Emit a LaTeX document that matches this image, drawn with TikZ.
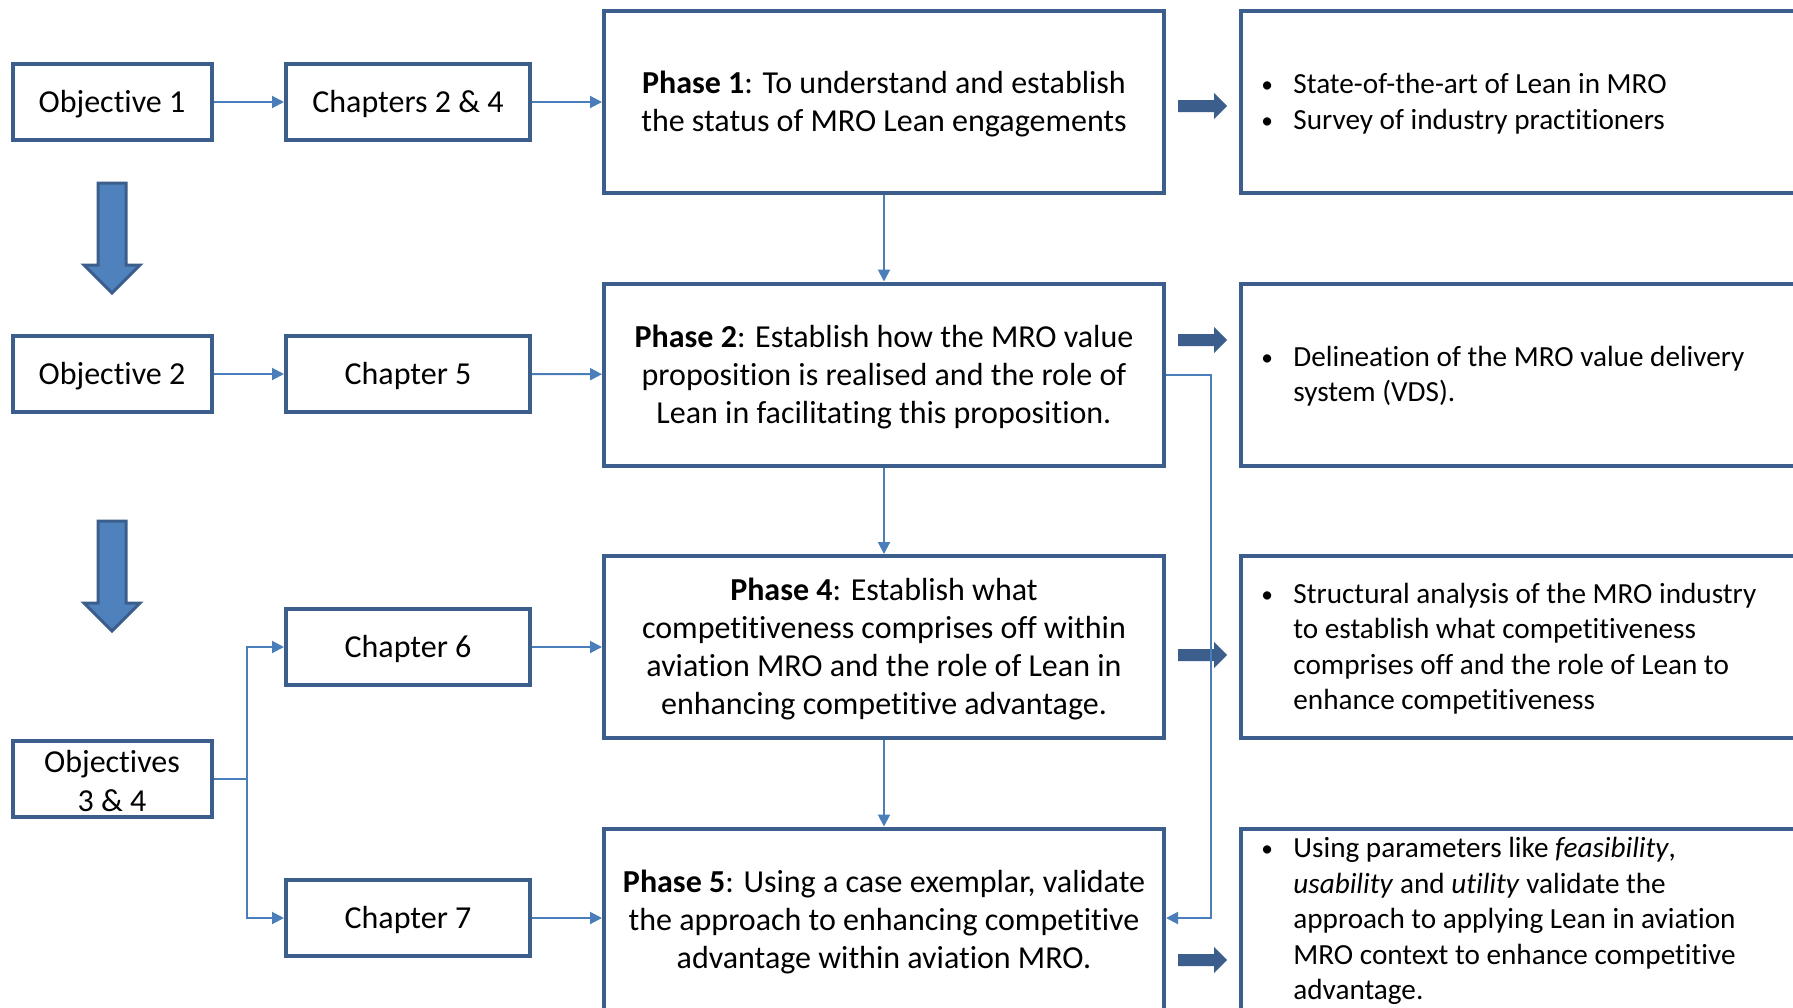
\documentclass[tikz,border=0pt]{standalone}
\usepackage{fontspec}
\setmainfont{Carlito}[Ligatures={NoCommon}]
\usetikzlibrary{arrows.meta}
\definecolor{frameblue}{HTML}{3B5E8C}
\definecolor{linkblue}{HTML}{4A7EBB}
\definecolor{fillblue}{HTML}{4F81BD}
\newcommand{\dotmark}{\raisebox{0.5pt}{\scalebox{0.8}{\textbullet}}}

\begin{document}
\begin{tikzpicture}[x=0.5pt,y=-0.5pt,
  box/.style={draw=frameblue, line width=2pt, fill=white, rectangle, inner sep=0pt},
  smallbox/.style={box, minimum width=99.5pt, minimum height=38pt},
  chapbox/.style={smallbox, minimum width=122pt},
  phasebox/.style={box, minimum width=280pt, minimum height=91pt},
  outbox/.style={box, minimum width=305pt, minimum height=91pt, anchor=west},
  boxtext/.style={inner sep=0pt, align=center, font=\fontsize{16}{19.5}\selectfont},
  phasetext/.style={inner sep=0pt, align=center, font=\fontsize{16}{19}\selectfont},
  outtext/.style={anchor=west, inner sep=0pt, align=left, font=\fontsize{14.6}{17.75}\selectfont},
  link/.style={draw=linkblue, line width=1pt, -{Triangle[length=6pt,width=6pt]}},
  fatarrow/.pic={\fill[frameblue] (0,-6) -- (36,-6) -- (36,-13) -- (49,0) -- (36,13) -- (36,6) -- (0,6) -- cycle;},
  downarrow/.pic={\draw[frameblue, fill=fillblue, line width=1.5pt, line join=miter]
     (-14,0) -- (14,0) -- (14,82) -- (28,82) -- (0,110) -- (-28,82) -- (-14,82) -- cycle;}
]
\clip (0,0) rectangle (1793,1007);
\fill[white] (0,0) rectangle (1793,1007);

% left column: objectives
\node[smallbox] (obj1) at (112,102) {};
\node[smallbox] (obj2) at (112,374) {};
\node[smallbox] (obj34) at (112,779) {};
\node[boxtext] (obj1t) at ([yshift=-1.15pt]obj1.center) {Objective 1};
\node[boxtext] (obj2t) at ([yshift=-1.15pt]obj2.center) {Objective 2};
\node[boxtext] (obj34t) at ([yshift=-1.15pt]obj34.center) {Objectives\\3 \& 4};

% chapters
\node[chapbox] (ch24) at (408,102) {};
\node[chapbox] (ch5) at (408,374) {};
\node[chapbox] (ch6) at (408,647) {};
\node[chapbox] (ch7) at (408,918) {};
\node[boxtext] (ch24t) at ([yshift=-1.15pt]ch24.center) {Chapters 2 \& 4};
\node[boxtext] (ch5t) at ([yshift=-1.15pt]ch5.center) {Chapter 5};
\node[boxtext] (ch6t) at ([yshift=-1.15pt]ch6.center) {Chapter 6};
\node[boxtext] (ch7t) at ([yshift=-1.15pt]ch7.center) {Chapter 7};

% phases
\node[phasebox] (ph1) at (884,102) {};
\node[phasebox] (ph2) at (884,374.5) {};
\node[phasebox] (ph4) at (884,647) {};
\node[phasebox] (ph5) at (884,919.5) {};
\node[phasetext] (ph1t) at ([yshift=-1.15pt]ph1.center) {\textbf{Phase 1}: To understand and establish\\the status of MRO Lean engagements};
\node[phasetext] (ph2t) at ([yshift=-1.15pt]ph2.center) {\textbf{Phase 2}: Establish how the MRO value\\proposition is realised and the role of\\Lean in facilitating this proposition.};
\node[phasetext] (ph4t) at ([yshift=-1.15pt]ph4.center) {\textbf{Phase 4}: Establish what\\competitiveness comprises off within\\aviation MRO and the role of Lean in\\enhancing competitive advantage.};
\node[phasetext] (ph5t) at ([yshift=-1.15pt]ph5.center) {\textbf{Phase 5}: Using a case exemplar, validate\\the approach to enhancing competitive\\advantage within aviation MRO.};

% outcomes
\node[outbox] (out1) at (1239,102) {};
\node[outbox] (out2) at (1239,374.5) {};
\node[outbox] (out3) at (1239,647) {};
\node[outbox] (out4) at (1239,919.5) {};

\node[outtext] (out1t) at ([xshift=11pt,yshift=-1.15pt]out1.west) {\begin{tabular}{@{}p{16pt}@{}l@{}}
\dotmark & State-of-the-art of Lean in MRO\\
\dotmark & Survey of industry practitioners
\end{tabular}};
\node[outtext] (out2t) at ([xshift=11pt,yshift=-1.15pt]out2.west) {\begin{tabular}{@{}p{16pt}@{}l@{}}
\dotmark & Delineation of the MRO value delivery\\
 & system (VDS).
\end{tabular}};
\node[outtext] (out3t) at ([xshift=11pt,yshift=-1.15pt]out3.west) {\begin{tabular}{@{}p{16pt}@{}l@{}}
\dotmark & Structural analysis of the MRO industry\\
 & to establish what competitiveness\\
 & comprises off and the role of Lean to\\
 & enhance competitiveness
\end{tabular}};
\node[outtext] (out4t) at ([xshift=11pt,yshift=-1.15pt]out4.west) {\begin{tabular}{@{}p{16pt}@{}l@{}}
\dotmark & Using parameters like \textit{feasibility},\\
 & \textit{usability} and \textit{utility} validate the\\
 & approach to applying Lean in aviation\\
 & MRO context to enhance competitive\\
 & advantage.
\end{tabular}};

% big downward arrows between objectives
\pic at (112,183) {downarrow};
\pic at (112,521) {downarrow};

% heavy arrows from phases to outcomes
\pic at (1178,106) {fatarrow};
\pic at (1178,340) {fatarrow};
\pic at (1178,655) {fatarrow};
\pic at (1178,960) {fatarrow};

% thin connectors
\draw[link] (obj1) -- (ch24);
\draw[link] (obj2) -- (ch5);
\draw[link] (ch24) -- (ph1);
\draw[link] (ch5) -- (ph2);
\draw[link] (ch6) -- (ph4);
\draw[link] (ch7) -- (ph5.west |- ch7);
\draw[link] (ph1) -- (ph2);
\draw[link] (ph2) -- (ph4);
\draw[link] (ph4) -- (ph5);

\coordinate (split) at (247,779);
\draw[draw=linkblue, line width=1pt] (obj34.east) -- (split);
\draw[link] (split) |- (ch6.west);
\draw[link] (split) |- (ch7.west);

\coordinate (bypass) at (1211,374.5);
\draw[link] (ph2.east) -- (bypass) |- (ph5.east |- ch7);
\end{tikzpicture}
\end{document}
